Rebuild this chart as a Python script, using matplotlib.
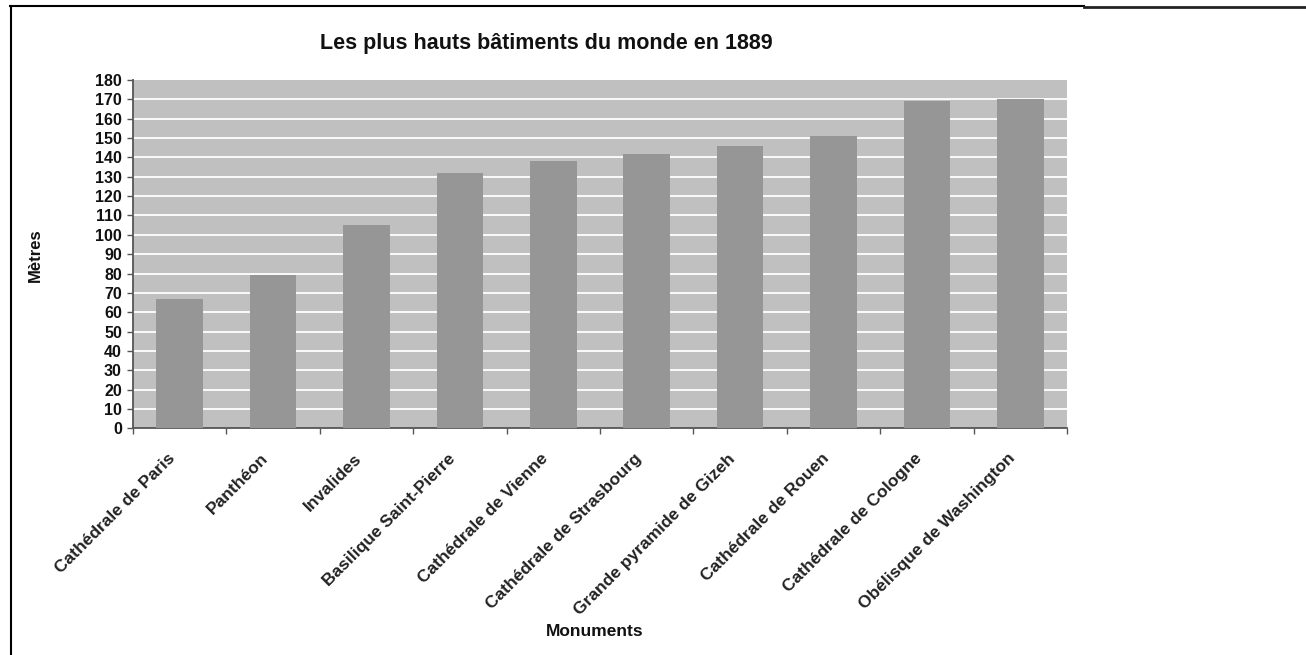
import matplotlib
matplotlib.use("Agg")
import matplotlib.pyplot as plt
import matplotlib.transforms as mtransforms
from matplotlib.lines import Line2D
import numpy as np

# ---- data ----
categories = ["Cathédrale de Paris", "Panthéon", "Invalides", "Basilique Saint-Pierre",
              "Cathédrale de Vienne", "Cathédrale de Strasbourg", "Grande pyramide de Gizeh",
              "Cathédrale de Rouen", "Cathédrale de Cologne", "Obélisque de Washington"]
heights = [67, 79, 105, 132, 138, 142, 146, 151, 169, 170]
y_ticks = list(range(0, 181, 10))
title = "Les plus hauts bâtiments du monde en 1889"
x_label = "Monuments"
y_label = "Mètres"

plt.rcParams['font.family'] = ['Liberation Sans', 'DejaVu Sans']

W, H = 1306, 655
fig = plt.figure(figsize=(W / 100, H / 100), dpi=100)
fig.patch.set_facecolor("white")

# axes placement in pixels
left, right, top, bottom = 133, 1067, 80, 428.3
ax = fig.add_axes([left / W, 1 - bottom / H, (right - left) / W, (bottom - top) / H])
ax.set_facecolor("#c0c0c0")

x = np.arange(len(categories))
ax.bar(x, heights, width=0.5, color="#969696", zorder=3)

ax.set_xlim(-0.5, len(categories) - 0.5)
ax.set_ylim(0, 180)
ax.set_yticks(y_ticks)
ax.set_yticklabels([str(v) for v in y_ticks], fontsize=11.5, fontweight="bold", color="#111111")
ax.set_xticks(np.arange(-0.5, len(categories), 1.0))
ax.set_xticklabels([])

for v in y_ticks[1:-1]:
    ax.axhline(v, color="white", lw=1.3, zorder=2)

for s in ["top", "right"]:
    ax.spines[s].set_visible(False)
for s in ["left", "bottom"]:
    ax.spines[s].set_color("#555555")
    ax.spines[s].set_linewidth(1.3)
ax.tick_params(axis="y", direction="out", length=4, width=1, color="#555555", pad=4)
ax.tick_params(axis="x", direction="out", length=4, width=1, color="#555555")

# rotated category labels
base = mtransforms.blended_transform_factory(ax.transData, ax.transAxes)
off = mtransforms.ScaledTranslation(-4 / 100, -31 / 100, fig.dpi_scale_trans)
for xi, lab in zip(x, categories):
    ax.text(xi, 0, lab, transform=base + off, rotation=45, rotation_mode="anchor",
            ha="right", va="baseline", fontsize=12.5, fontweight="bold", color="#222222")

fig.text(546.7 / W, 1 - 43.5 / H, title, ha="center", va="center",
         fontsize=15.5, fontweight="bold", color="#111111")
fig.text(594.5 / W, 1 - 632 / H, x_label, ha="center", va="center",
         fontsize=12.5, fontweight="bold", color="#111111")
fig.text(35 / W, 1 - 255 / H, y_label, ha="center", va="center", rotation=90,
         fontsize=12, fontweight="bold", color="#111111")

# frame lines of the original screenshot
fig.add_artist(Line2D([10 / W, 1084 / W], [1 - 5.5 / H, 1 - 5.5 / H], color="black", lw=1.5,
                      transform=fig.transFigure))
fig.add_artist(Line2D([1084 / W, 1.0], [1 - 6.5 / H, 1 - 6.5 / H], color="#222222", lw=2,
                      transform=fig.transFigure))
fig.add_artist(Line2D([10.5 / W, 10.5 / W], [0, 1 - 5.5 / H], color="black", lw=1.5,
                      transform=fig.transFigure))

fig.savefig("out.png", dpi=100, facecolor="white")
